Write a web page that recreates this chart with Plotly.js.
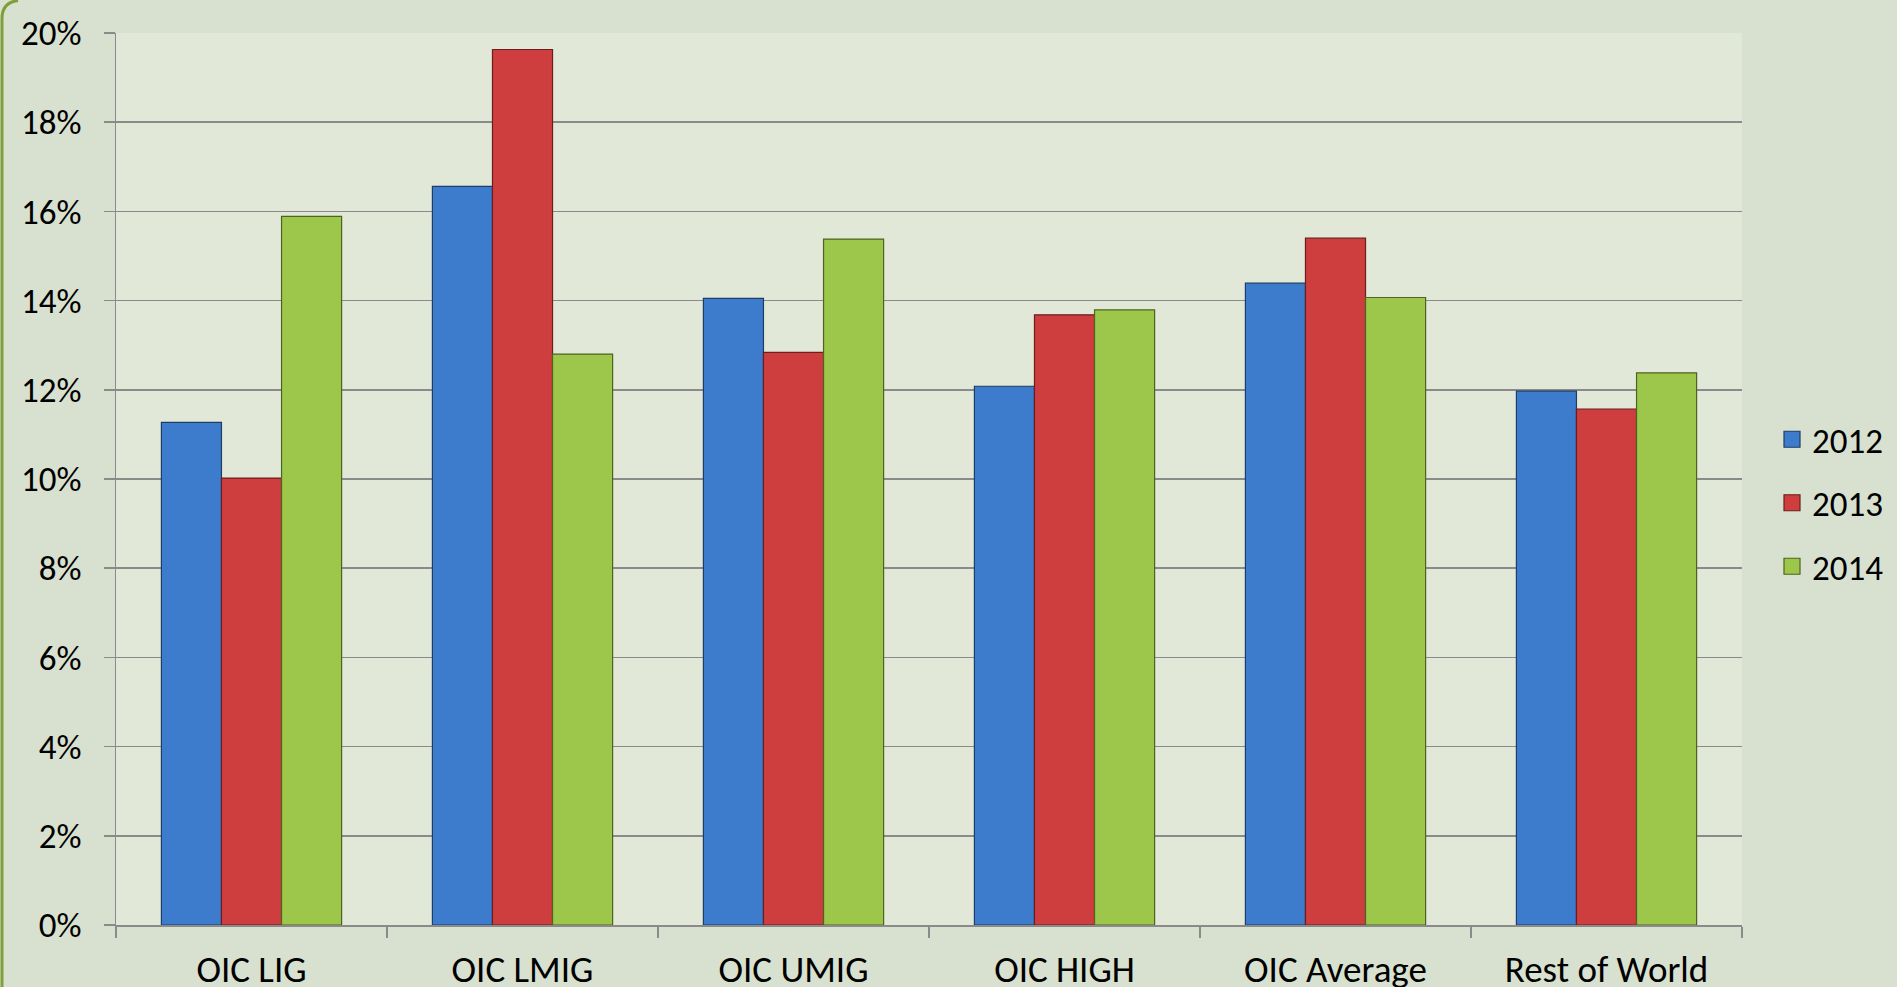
<!DOCTYPE html>
<html>
<head>
<meta charset="utf-8">
<script src="https://cdn.plot.ly/plotly-3.0.1.min.js"></script>
<style>
  html, body { margin: 0; padding: 0; background: #d8e0cf; }
  #chart { width: 1897px; height: 987px; }
</style>
</head>
<body>
<div id="chart"></div>
<script>
// Data (share, as fractions)
const categories = ["OIC LIG", "OIC LMIG", "OIC UMIG", "OIC HIGH", "OIC Average", "Rest of World"];
const years = ["2012", "2013", "2014"];
const values2012 = [0.1127, 0.1656, 0.1405, 0.1208, 0.1439, 0.1197];
const values2013 = [0.1002, 0.1963, 0.1284, 0.1368, 0.1540, 0.1157];
const values2014 = [0.1589, 0.1280, 0.1538, 0.1379, 0.1407, 0.1238];
const yTicks = [0, 0.02, 0.04, 0.06, 0.08, 0.10, 0.12, 0.14, 0.16, 0.18, 0.20];

const seriesValues = [values2012, values2013, values2014];
const fills = ["#3d7bcc", "#cf3e3e", "#9cc74b"];
const edges = ["#1e3d66", "#6b1e1e", "#4d6320"];

const FONT = "Carlito, Lato, 'Open Sans', sans-serif";

const barTraces = years.map((yr, i) => ({
  type: "bar",
  name: yr,
  x: categories,
  y: seriesValues[i],
  legendgroup: yr,
  showlegend: false,
  marker: { color: fills[i], line: { color: edges[i], width: 1.2 } },
  hoverinfo: "x+y+name"
}));

// legend-only entries (bigger square swatches like the reference)
const legendTraces = years.map((yr, i) => ({
  type: "scatter",
  mode: "markers",
  name: yr,
  x: [null],
  y: [null],
  legendgroup: yr,
  showlegend: true,
  marker: { symbol: "square", size: 20, color: fills[i], line: { color: edges[i], width: 1.2 } },
  hoverinfo: "skip"
}));

const W = 1897, H = 987;
const plotLeft = 116, plotRight = 1742;
const pw = plotRight - plotLeft;
function px2paper(px) { return (px - plotLeft) / pw; }
const plotTop = 32.5, plotBottom = 925;
const ph = plotBottom - plotTop;
function py2paper(py) { return (plotBottom - py) / ph; }

const layout = {
  width: W,
  height: H,
  margin: { l: plotLeft, r: W - plotRight, t: plotTop, b: H - plotBottom, pad: 0, autoexpand: false },
  paper_bgcolor: "#d8e0cf",
  plot_bgcolor: "#e2e8d8",
  font: { family: FONT, size: 34, color: "#000000" },
  barmode: "group",
  bargap: 0.335,
  bargroupgap: 0,
  showlegend: true,
  legend: {
    xref: "container",
    yref: "container",
    x: 1772 / W,
    xanchor: "left",
    y: 1 - 503 / H,
    yanchor: "middle",
    bgcolor: "rgba(0,0,0,0)",
    borderwidth: 0,
    font: { family: FONT, size: 35, color: "#000000" },
    tracegroupgap: 15,
    traceorder: "grouped",
    itemsizing: "trace"
  },
  xaxis: {
    type: "category",
    tickson: "boundaries",
    ticks: "outside",
    ticklen: 11,
    tickwidth: 1.5,
    tickcolor: "#8a8a8a",
    showline: true,
    linecolor: "#8a8a8a",
    linewidth: 1.5,
    showgrid: false,
    ticklabelstandoff: 11,
    tickfont: { family: FONT, size: 37, color: "#000000" },
    fixedrange: true
  },
  yaxis: {
    range: [0, 0.2],
    tickvals: yTicks,
    tickformat: ".0%",
    ticks: "outside",
    ticklen: 11,
    tickwidth: 1.5,
    tickcolor: "#8a8a8a",
    showline: true,
    linecolor: "#8a8a8a",
    linewidth: 1.5,
    showgrid: true,
    gridcolor: "#8a8a8a",
    gridwidth: 1.5,
    zeroline: false,
    ticklabelstandoff: 15,
    tickfont: { family: FONT, size: 35, color: "#000000" },
    fixedrange: true
  },
  shapes: [
    {
      type: "path",
      xref: "paper", yref: "paper",
      path: "M " + px2paper(2) + " " + py2paper(990) +
            " L " + px2paper(2) + " " + py2paper(18) +
            " Q " + px2paper(2) + " " + py2paper(2) + " " + px2paper(18) + " " + py2paper(0),
      line: { color: "#7f9f3a", width: 3 },
      layer: "below"
    }
  ]
};

Plotly.newPlot("chart", barTraces.concat(legendTraces), layout, { displayModeBar: false, staticPlot: true });
</script>
</body>
</html>
